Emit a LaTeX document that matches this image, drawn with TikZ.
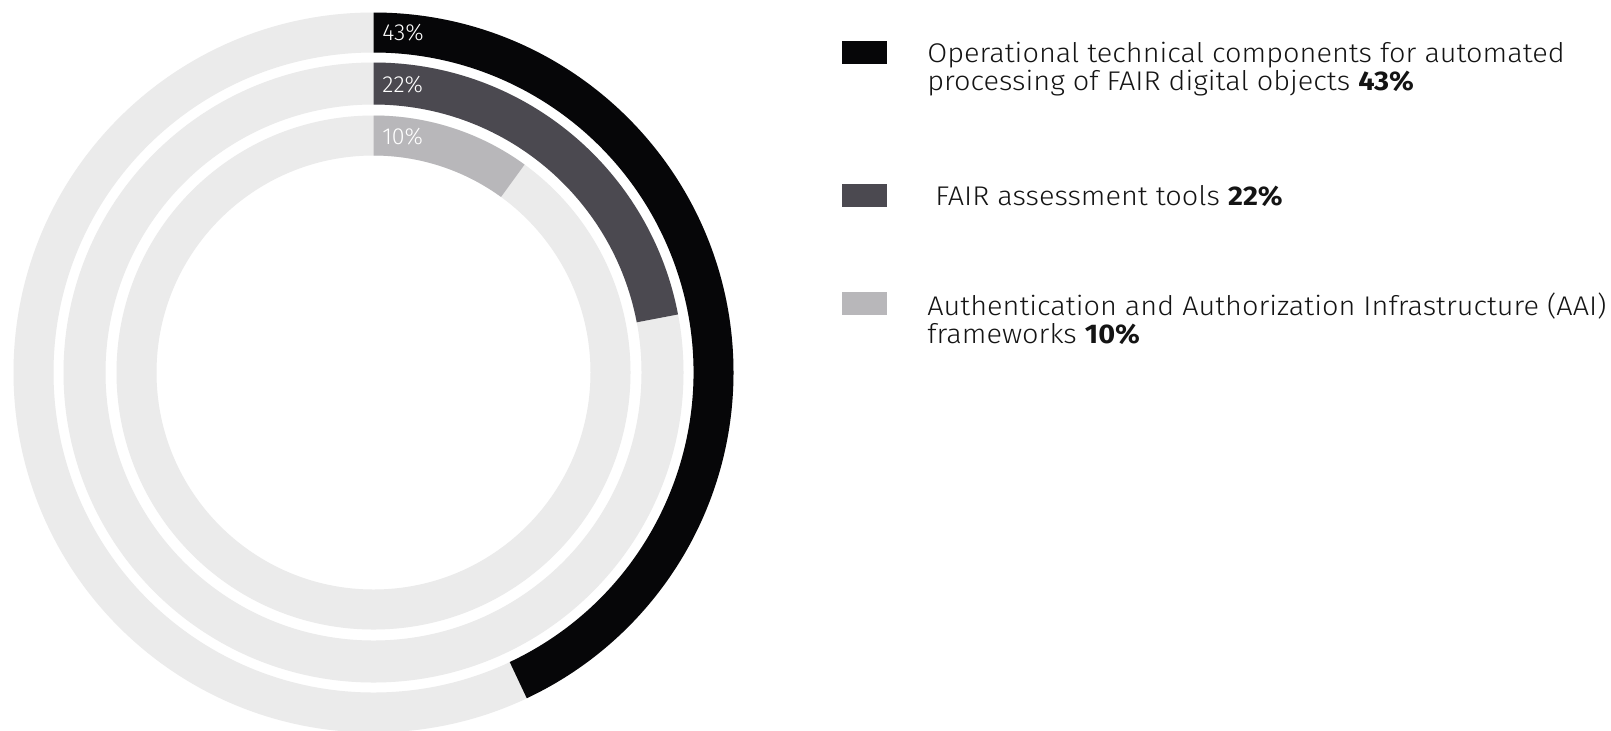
\documentclass[tikz,border=0pt]{standalone}
\usepackage{fontspec}
\setmainfont{Fira Sans Light}[BoldFont={Fira Sans Bold}]
\newfontfamily\legfont{Fira Sans Light}[BoldFont={Fira Sans Bold},FakeStretch=1.07]
\definecolor{segA}{HTML}{060608}
\definecolor{segB}{HTML}{4B4950}
\definecolor{segC}{HTML}{B8B7BA}
\definecolor{track}{HTML}{EBEBEB}
\definecolor{legtext}{HTML}{141414}
\newcommand\ringseg[4]{\fill[#1] ([shift={(90:#3)}]C) arc[start angle=90,end angle=#4,radius=#3] -- ([shift={(#4:#2)}]C) arc[start angle=#4,end angle=90,radius=#2] -- cycle;}
\tikzset{
  pct/.style={inner sep=0pt, anchor=base west, text=white, font=\fontsize{11.6pt}{13pt}\selectfont},
  legsq/.style={inner sep=0pt, minimum width=22.5pt, minimum height=11.5pt, draw=none},
  legtxt/.style={inner sep=0pt, anchor=base west, text=legtext, font=\legfont\fontsize{13.5pt}{16pt}\selectfont}
}
\begin{document}
\begin{tikzpicture}[x=0.5pt,y=0.5pt]
\useasboundingbox (0,0) rectangle (1611,-730);
\clip (0,0) rectangle (1611,-730);
\fill[white] (0,0) rectangle (1611,-730);
\coordinate (C) at (373.5,-372.5);
% tracks
\fill[track,even odd rule] (C) circle[radius=360] (C) circle[radius=320];
\fill[track,even odd rule] (C) circle[radius=310] (C) circle[radius=268];
\fill[track,even odd rule] (C) circle[radius=257] (C) circle[radius=217];
% segments
\ringseg{segA}{320}{360}{-64.8}
\ringseg{segB}{268}{310}{10.8}
\ringseg{segC}{217}{257}{54}
% ring labels
\node[pct] (p43) at (382,-40) {43\%};
\node[pct] (p22) at (382,-92) {22\%};
\node[pct] (p10) at (382,-144) {10\%};
% legend
\node[legsq, fill=segA] (s1) at (864.5,-52.5) {};
\node[legsq, fill=segB] (s2) at (864.5,-195) {};
\node[legsq, fill=segC] (s3) at (864.5,-303.5) {};
\node[legtxt] (t1a) at (927,-62) {Operational technical components for automated};
\node[legtxt] (t1b) at (927,-90) {processing of FAIR digital objects \textbf{43\%}};
\node[legtxt] (t2) at (935,-205) {FAIR assessment tools \textbf{22\%}};
\node[legtxt] (t3a) at (927,-315) {Authentication and Authorization Infrastructure (AAI)};
\node[legtxt] (t3b) at (927,-343) {frameworks \textbf{10\%}};
\end{tikzpicture}
\end{document}
